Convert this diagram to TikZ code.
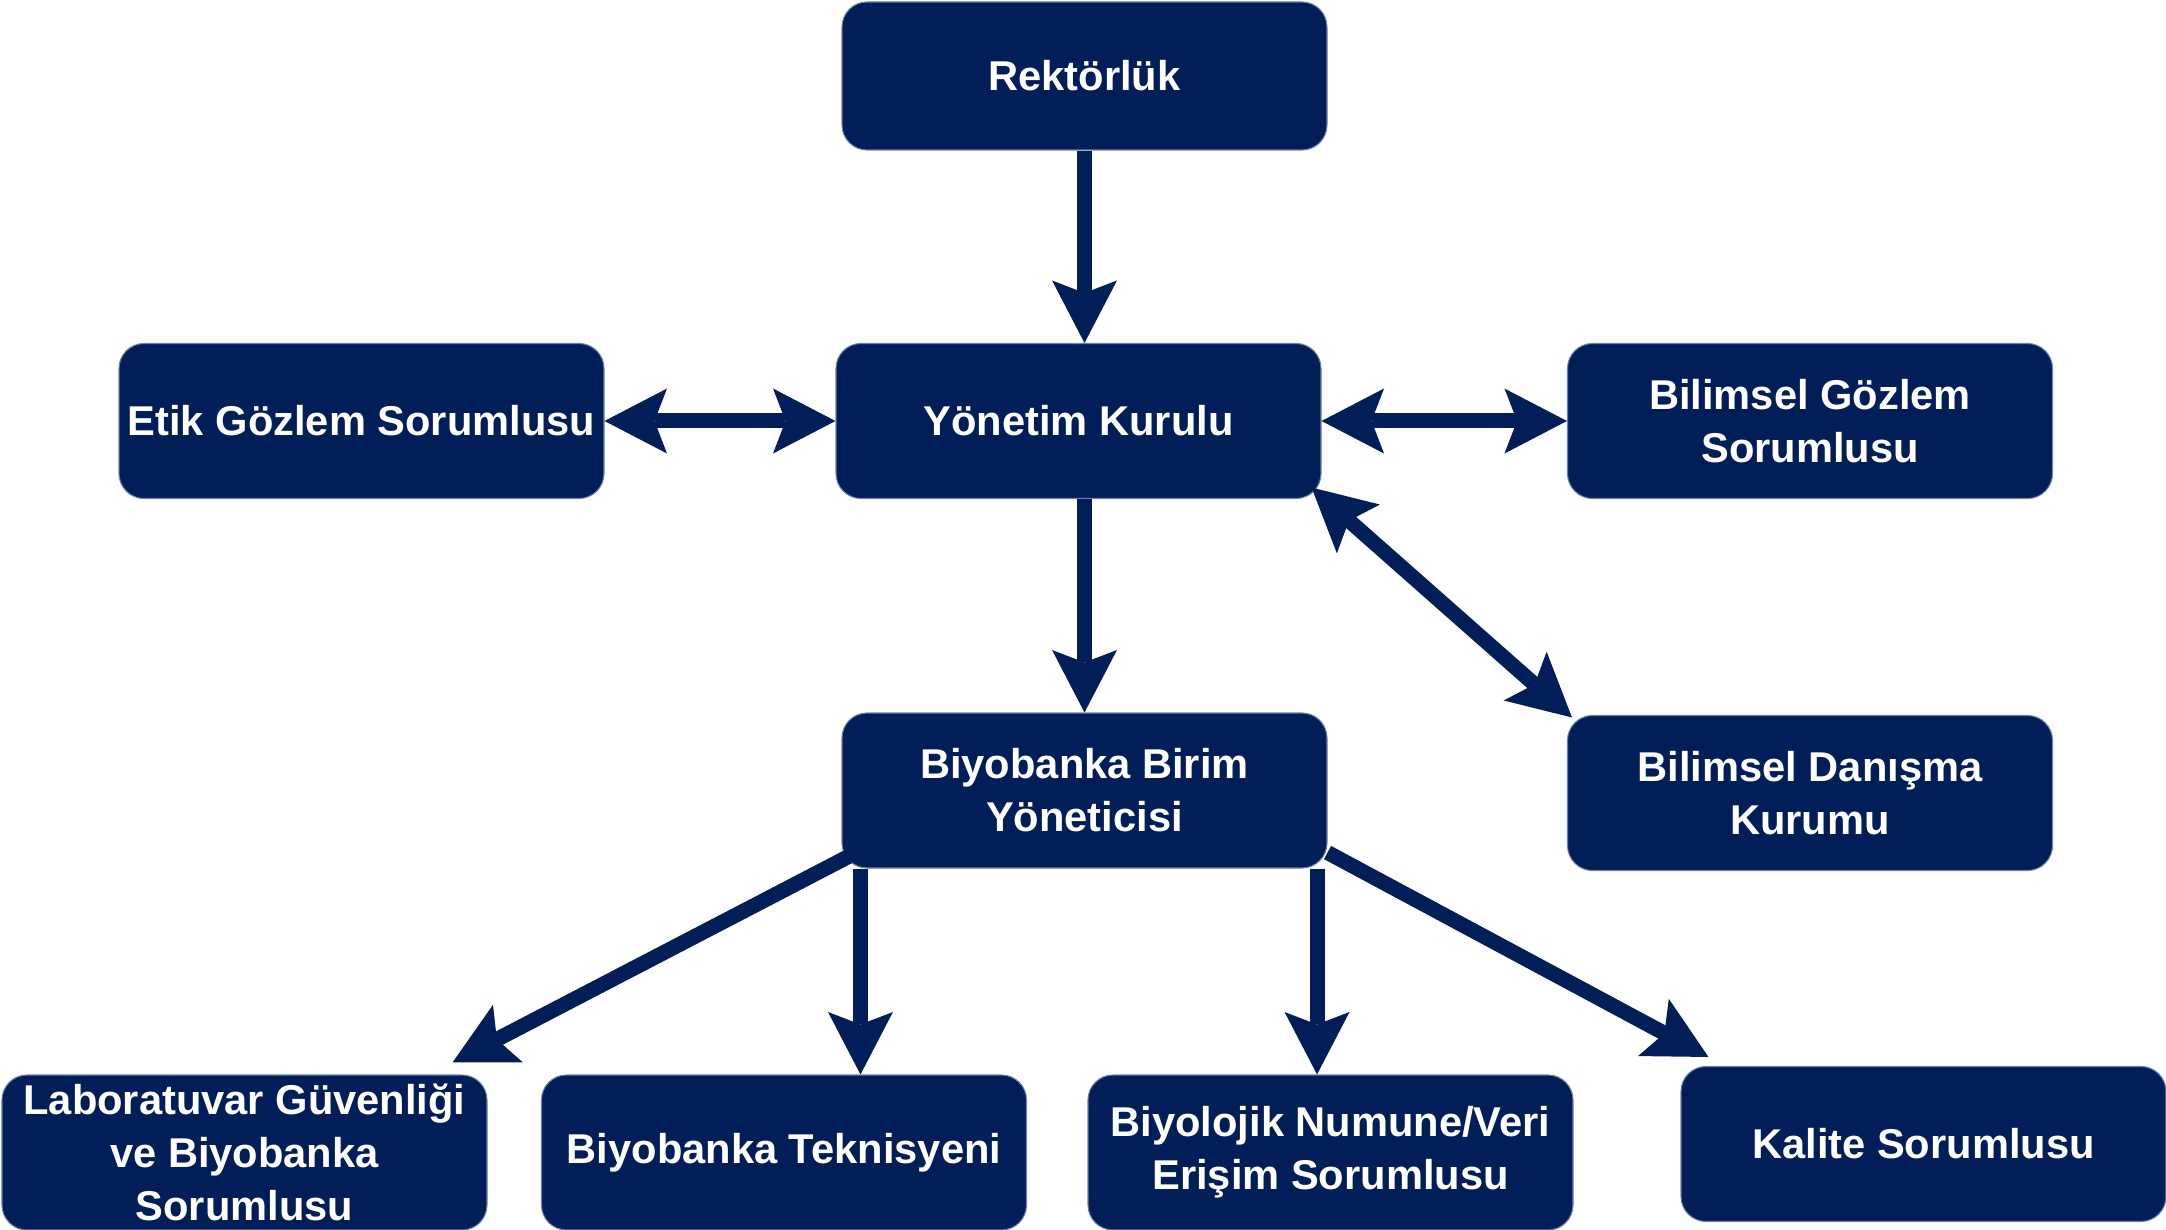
\documentclass[tikz,border=0pt]{standalone}
\usepackage{fontspec}
\setmainfont{Liberation Sans}
\usepackage{xcolor}
\usepackage{tikz}
\usetikzlibrary{arrows.meta, calc, positioning}

\definecolor{lacivert}{RGB}{1,30,89}
\definecolor{kenar}{RGB}{108,128,168}

\begin{document}
\begin{tikzpicture}[
    kutu/.style={rectangle, rounded corners=0.5cm, fill=lacivert, draw=kenar,
        line width=0.6pt, minimum width=9.7cm, minimum height=3.1cm,
        inner sep=0pt, align=center, text=white,
        font=\fontsize{23.7}{30.2}\selectfont\bfseries},
    ucok/.tip={Stealth[length=1.25cm, width=1.3cm, inset=0.25cm, line width=0pt]},
    ok/.style={draw=lacivert, line width=0.3cm, -ucok},
    ciftok/.style={draw=lacivert, line width=0.3cm, ucok-ucok}
]

    % =================================================================
    % 1. SAYFA SINIRLARI
    % =================================================================
    \useasboundingbox (0,0) rectangle (43.32,-24.6);

    % =================================================================
    % 2. KUTULAR
    % =================================================================
    % Ust sira
    \node[kutu, minimum height=2.96cm] (rek) at (21.69,-1.52) {Rektörlük};

    % Orta sira
    \node[kutu] (yk)   at (21.57,-8.42) {Yönetim Kurulu};
    \node[kutu] (etik) at (7.23,-8.42)  {Etik Gözlem Sorumlusu};
    \node[kutu] (bgs)  at (36.2,-8.42)  {Bilimsel Gözlem\\Sorumlusu};

    % Birim sirasi
    \node[kutu] (bbm) at (21.69,-15.81) {Biyobanka Birim\\Yöneticisi};
    \node[kutu] (bdk) at (36.2,-15.86)  {Bilimsel Danışma\\Kurumu};

    % Alt sira
    \node[kutu] (lab) at (4.89,-23.05)  {Laboratuvar Güvenliği\\ve Biyobanka\\Sorumlusu};
    \node[kutu] (tek) at (15.68,-23.05) {Biyobanka Teknisyeni};
    \node[kutu] (bnv) at (26.61,-23.05) {Biyolojik Numune/Veri\\Erişim Sorumlusu};
    \node[kutu] (kal) at (38.47,-22.88) {Kalite Sorumlusu};

    % =================================================================
    % 3. OKLAR
    % =================================================================
    % Rektorluk ve Yonetim Kurulu
    \draw[ok] (rek.south) -- (rek.south |- yk.north);
    \draw[ok] (bbm.north |- yk.south) -- (bbm.north);

    % Yonetim Kurulu ile iki yonlu baglar
    \draw[ciftok] (etik.east) -- (yk.west);
    \draw[ciftok] (yk.east) -- (bgs.west);
    \draw[ciftok] ($(yk.south east)+(-0.2,0.23)$) -- ($(bdk.north west)+(0.1,-0.05)$);

    % Birim yoneticisinden alt siraya
    \coordinate (t1) at ($(bbm.south west)+(0.38,0)$);
    \coordinate (t2) at ($(bbm.south east)+(-0.21,0)$);
    \draw[ok] ($(bbm.south west)+(0.14,0.24)$) -- ($(lab.north east)+(-0.7,0.24)$);
    \draw[ok] (t1) -- (t1 |- tek.north);
    \draw[ok] (t2) -- (t2 |- bnv.north);
    \draw[ok] ($(bbm.south east)+(0,0.32)$) -- ($(kal.north west)+(0.56,0.18)$);

\end{tikzpicture}
\end{document}
